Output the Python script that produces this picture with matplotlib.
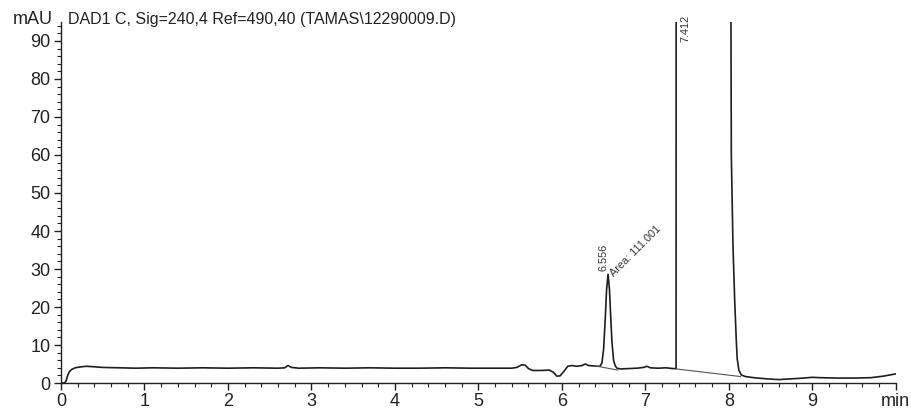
import matplotlib
matplotlib.use("Agg")
import matplotlib.pyplot as plt
from matplotlib.ticker import MultipleLocator

plt.rcParams['font.family'] = ['Liberation Sans', 'DejaVu Sans']

# signal (time in min, absorbance in mAU)
time = [0.00, 0.04, 0.06, 0.08, 0.10, 0.13, 0.17, 0.22, 0.30, 0.38, 0.50,
        0.70, 0.90, 1.10, 1.40, 1.70, 2.00, 2.30, 2.60, 2.68, 2.72, 2.76,
        2.85, 3.10, 3.40, 3.70, 4.00, 4.30, 4.60, 4.90, 5.20, 5.40, 5.46,
        5.52, 5.56, 5.60, 5.65, 5.75, 5.85, 5.90, 5.94, 5.98, 6.03, 6.07,
        6.12, 6.18, 6.24, 6.28, 6.32, 6.38, 6.43, 6.46, 6.48, 6.50, 6.52,
        6.535, 6.553, 6.57, 6.585, 6.60, 6.62, 6.64, 6.66, 6.70, 6.80, 6.90,
        6.98, 7.02, 7.06, 7.15, 7.25, 7.33, 7.368, 7.372, 8.00, 8.03, 8.05,
        8.07, 8.09, 8.10, 8.12, 8.15, 8.20, 8.30, 8.45, 8.60, 8.75, 8.90,
        9.00, 9.10, 9.30, 9.50, 9.70, 9.85, 10.00]
signal = [0.0, 0.0, 0.5, 2.0, 3.0, 3.6, 4.0, 4.2, 4.4, 4.3, 4.1,
          4.0, 3.9, 4.0, 3.9, 4.0, 3.9, 4.0, 3.9, 4.0, 4.6, 4.1,
          3.9, 4.0, 3.9, 4.0, 3.9, 3.9, 4.0, 3.9, 3.9, 3.9, 4.1,
          4.8, 4.7, 3.8, 3.3, 3.3, 3.4, 2.8, 1.8, 1.9, 3.2, 4.4,
          4.6, 4.4, 4.6, 5.0, 4.6, 4.5, 4.4, 4.45, 5.3, 8.9, 17.0,
          24.3, 28.6, 24.7, 17.5, 10.8, 5.9, 4.5, 3.9, 3.7, 3.8, 3.9,
          4.1, 4.4, 4.0, 3.9, 4.0, 3.8, 3.8, 300.0, 300.0, 60.0, 36.0,
          22.0, 11.0, 6.5, 3.4, 2.1, 1.7, 1.4, 1.1, 0.9, 1.1, 1.3,
          1.5, 1.4, 1.3, 1.3, 1.4, 1.8, 2.4]

# integration baselines
base1_t = [6.40, 6.67]
base1_v = [4.5, 3.4]
base2_t = [7.37, 8.14]
base2_v = [3.7, 1.7]

peak_rt = ['6.556', '7.412']
peak_x = [6.50, 7.48]
peak_y = [29.6, 89.8]
area_text = 'Area: 111.001'

x_ticks = list(range(11))
x_labels = ['0', '1', '2', '3', '4', '5', '6', '7', '8', '9', 'min']

fig = plt.figure(figsize=(9.12, 4.11), dpi=100)
ax = fig.add_axes([0.0669, 0.0681, 0.9153, 0.8784])

ax.plot(time, signal, color='#1e1e1e', lw=1.2)
ax.plot(base1_t, base1_v, color='#555555', lw=0.8)
ax.plot(base2_t, base2_v, color='#555555', lw=0.8)

for lab, x, y in zip(peak_rt, peak_x, peak_y):
    ax.text(x, y, lab, rotation=90, ha='center', va='bottom',
            fontsize=7.8, color='#333333', clip_on=False)
ax.text(6.64, 27.6, area_text, rotation=45, ha='left', va='bottom',
        rotation_mode='anchor', fontsize=7.8, color='#333333')

ax.set_xlim(0, 10)
ax.set_ylim(0, 95)
ax.set_xticks(x_ticks)
ax.set_xticklabels(x_labels)
ax.xaxis.set_minor_locator(MultipleLocator(0.2))
ax.set_yticks(range(0, 91, 10))
ax.yaxis.set_minor_locator(MultipleLocator(2))

for s in ['top', 'right']:
    ax.spines[s].set_visible(False)
for s in ['left', 'bottom']:
    ax.spines[s].set_linewidth(1.0)
    ax.spines[s].set_color('#222222')

ax.tick_params(which='major', length=5, width=1.0, color='#222222',
               labelsize=13, labelcolor='#222222', pad=2.5)
ax.tick_params(which='minor', length=3, width=0.8, color='#222222')

ax.text(-0.0095, 95.6, 'mAU', transform=ax.get_yaxis_transform(),
        ha='right', va='center', fontsize=13, color='#222222')
ax.text(0.0084, 95.6, 'DAD1 C, Sig=240,4 Ref=490,40 (TAMAS\\12290009.D)',
        transform=ax.get_yaxis_transform(), ha='left', va='center',
        fontsize=11.5, color='#222222')

fig.savefig('out.png', dpi=100)
